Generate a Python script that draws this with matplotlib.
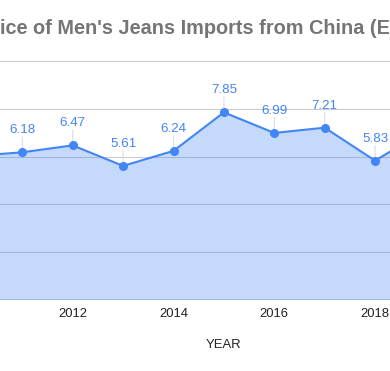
import matplotlib
matplotlib.use("Agg")
import matplotlib.pyplot as plt

# values (2010 and 2019 are only partly visible)
years = [2010, 2011, 2012, 2013, 2014, 2015, 2016, 2017, 2018, 2019]
prices = [6.02, 6.18, 6.47, 5.61, 6.24, 7.85, 6.99, 7.21, 5.83, 7.10]
tick_years = [2010, 2012, 2014, 2016, 2018]
y_ticks = [0, 2, 4, 6, 8, 10]

BLUE = "#4285F4"
W, H = 390, 371

plt.rcParams["font.family"] = ["Liberation Sans", "DejaVu Sans"]

fig = plt.figure(figsize=(W / 100, H / 100), dpi=100)

# plot area runs past both edges of the picture
px_per_year = 50.4
x0_year = 2012 - 72.7 / px_per_year
x1_year = 2012 + (W - 72.7) / px_per_year
ax = fig.add_axes([0, (H - 300) / H, 1, 239 / H])

for v in y_ticks[1:]:
    ax.axhline(v, color="#cccccc", lw=0.8, zorder=1, clip_on=False)
ax.axhline(0, color="#333333", lw=1.0, zorder=5)

ax.fill_between(years, prices, 0, color=BLUE, alpha=0.3, lw=0, zorder=2)
ax.plot(years, prices, color=BLUE, lw=1.5, marker="o", ms=5.5, zorder=4)

for x, y in zip(years, prices):
    if not (x0_year < x < x1_year):
        continue
    ax.annotate("", xy=(x, y), xytext=(0, 11), textcoords="offset points",
                arrowprops=dict(arrowstyle="-", color="#dddddd", lw=0.8,
                                shrinkA=0, shrinkB=0), zorder=3)
    ax.annotate(f"{y:.2f}", (x, y), xytext=(0, 11.5), textcoords="offset points",
                ha="center", va="bottom", color=BLUE, fontsize=9.6)

for s in ax.spines.values():
    s.set_visible(False)
ax.set_yticks([])
ax.set_xticks(tick_years)
ax.set_xticklabels([str(t) for t in tick_years], fontsize=9.4, color="#222222")
ax.tick_params(axis="x", length=0, pad=6)

# limits last, set_xticks would widen them
ax.set_xlim(x0_year, x1_year)
ax.set_ylim(0, 10)

fig.text(224 / W, 1 - 345 / H, "YEAR", ha="center", va="center",
         fontsize=9.4, color="#222222")

# title is cut off on both sides in the reference
ty = 1 - 28 / H
fig.text(0.0, ty, "Average Pr", ha="right", va="center", fontsize=14.3,
         fontweight="bold", color="#757575")
fig.text(0.0, ty, "ice of Men's Jeans Imports from China (EUR)", ha="left",
         va="center", fontsize=14.3, fontweight="bold", color="#757575")

fig.savefig("out.png", dpi=100)
